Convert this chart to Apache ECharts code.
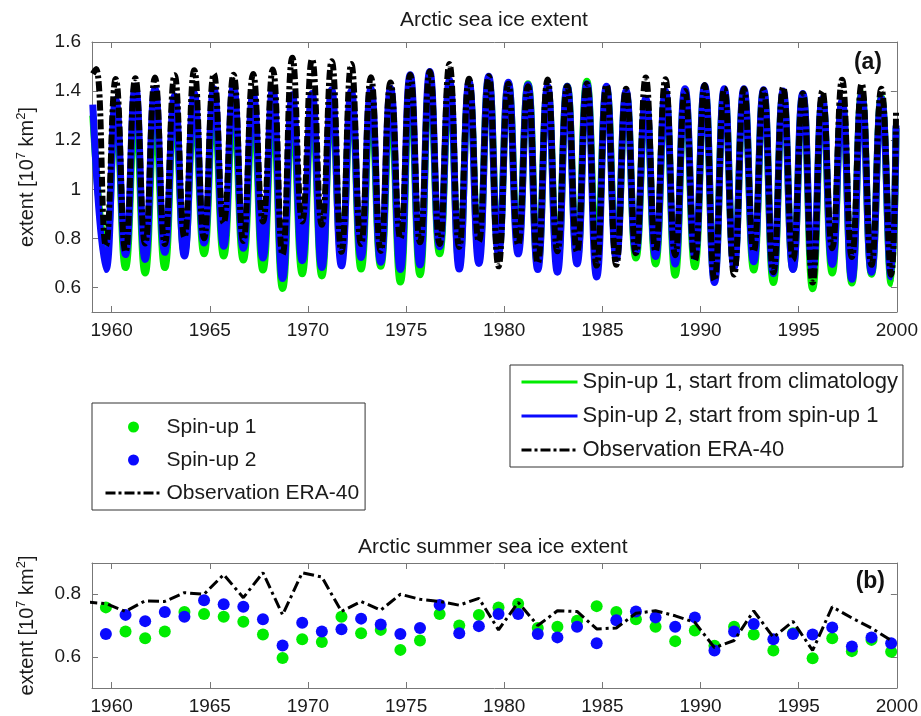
<!DOCTYPE html>
<html>
<head>
<meta charset="utf-8">
<script src="https://cdn.jsdelivr.net/npm/echarts@6/dist/echarts.min.js"></script>
<style>html,body{margin:0;padding:0;background:#fff}#c{width:921px;height:716px}</style>
</head>
<body>
<div id="c"></div>
<script>
// ---------------- data ----------------
const xTicks = [1960, 1965, 1970, 1975, 1980, 1985, 1990, 1995, 2000];
const yTicksA = [0.6, 0.8, 1.0, 1.2, 1.4, 1.6];
const yTicksB = [0.6, 0.8];

// September (summer minimum) years 1959..1999
const sepYears = [1959,1960,1961,1962,1963,1964,1965,1966,1967,1968,
                  1969,1970,1971,1972,1973,1974,1975,1976,1977,1978,
                  1979,1980,1981,1982,1983,1984,1985,1986,1987,1988,
                  1989,1990,1991,1992,1993,1994,1995,1996,1997,1998,1999];

// Observation ERA-40, September extent (10^7 km^2)
const obsSep = [0.770,0.745,0.779,0.777,0.805,0.800,0.863,0.789,0.869,0.734,
                0.869,0.855,0.745,0.777,0.749,0.800,0.784,0.777,0.765,0.787,
                0.686,0.774,0.700,0.747,0.745,0.689,0.692,0.739,0.747,0.731,
                0.710,0.629,0.652,0.747,0.662,0.713,0.620,0.760,0.724,0.692,0.652];
const obsSep1958 = 0.775;
// Spin-up 1 (green), September extent
const s1Sep = [0.758,0.681,0.659,0.681,0.743,0.737,0.728,0.712,0.671,0.596,
               0.656,0.647,0.728,0.675,0.686,0.622,0.652,0.737,0.700,0.734,
               0.758,0.770,0.692,0.696,0.715,0.762,0.743,0.720,0.696,0.650,
               0.684,0.635,0.696,0.671,0.620,0.675,0.595,0.659,0.618,0.654,0.616];
// Spin-up 2 (blue), September extent
const s2Sep = [0.673,0.734,0.714,0.743,0.728,0.781,0.768,0.760,0.720,0.636,
               0.709,0.681,0.688,0.722,0.703,0.673,0.692,0.766,0.675,0.698,
               0.737,0.737,0.673,0.662,0.696,0.643,0.717,0.745,0.726,0.696,
               0.726,0.620,0.681,0.705,0.656,0.673,0.671,0.694,0.633,0.662,0.643];

// March (winter maximum): observation 1959..1999, models 1960..1999
const obsMar = [1.490,1.449,1.452,1.455,1.465,1.485,1.470,1.467,1.470,1.488,
                1.536,1.530,1.522,1.510,1.456,1.435,1.467,1.480,1.510,1.450,
                1.460,1.430,1.420,1.447,1.420,1.430,1.425,1.410,1.455,1.448,
                1.400,1.425,1.410,1.410,1.405,1.415,1.390,1.400,1.446,1.430,1.410];
const s2Mar = [1.366,1.420,1.410,1.380,1.390,1.410,1.420,1.390,1.410,1.385,
               1.390,1.405,1.400,1.410,1.412,1.467,1.480,1.445,1.438,1.460,
               1.436,1.426,1.420,1.420,1.430,1.420,1.400,1.370,1.400,1.410,
               1.422,1.410,1.410,1.405,1.400,1.390,1.370,1.360,1.385,1.370];
const s1Mar = [1.300,1.305,1.290,1.320,1.315,1.330,1.305,1.300,1.305,1.300,
               1.320,1.350,1.360,1.340,1.330,1.400,1.450,1.400,1.420,1.450,
               1.430,1.430,1.410,1.420,1.440,1.410,1.390,1.360,1.390,1.400,
               1.415,1.400,1.400,1.400,1.390,1.385,1.365,1.355,1.390,1.375];

// first value (Jan 1959) and last value (Dec 1999)
const obsJan1959 = 1.47, s1Jan1959 = 1.30, s2Jan1959 = 1.345;
const obsDec1999 = 1.32, s1Dec1999 = 1.25, s2Dec1999 = 1.26;

// ---------------- build series ----------------
const JAN = 0.5/12, MAR = 2.5/12, SEP = 8.5/12, DEC = 11.5/12;
function monthly(jan, marVals, marHasFirst, sepVals, dec) {
  const out = [[sepYears[0] + JAN, jan]];
  sepYears.forEach((y, i) => {
    if (marHasFirst) out.push([y + MAR, marVals[i]]);
    else if (i > 0) out.push([y + MAR, marVals[i - 1]]);
    out.push([y + SEP, sepVals[i]]);
  });
  out.push([sepYears[sepYears.length - 1] + DEC, dec]);
  return out;
}
const obsTop = monthly(obsJan1959, obsMar, true, obsSep, obsDec1999);
const s1Top = monthly(s1Jan1959, s1Mar, false, s1Sep, s1Dec1999);
const s2Top = monthly(s2Jan1959, s2Mar, false, s2Sep, s2Dec1999);
const obsB = [[1958 + SEP, obsSep1958]].concat(sepYears.map((y, i) => [y + SEP, obsSep[i]]));
const s1B = sepYears.map((y, i) => [y + SEP, s1Sep[i]]);
const s2B = sepYears.map((y, i) => [y + SEP, s2Sep[i]]);

// ---------------- chart ----------------
const FONT = '"Liberation Sans", Arial, Helvetica, sans-serif';
const GREEN = '#00ec00', BLUE = '#0a0aff', BLACK = '#000000', AX = '#777777';
const chart = echarts.init(document.getElementById('c'), null, {renderer: 'canvas'});

function xAx(grid, pos, labels) {
  return {
    type: 'value', gridIndex: grid, position: pos, min: 1959, max: 2000,
    axisLine: {show: true, onZero: false, lineStyle: {color: AX, width: 1}},
    axisTick: {show: true, inside: true, length: 6, customValues: xTicks, lineStyle: {color: AX}},
    axisLabel: {show: labels, customValues: xTicks, margin: 9, fontSize: 19, color: '#1a1a1a', fontFamily: FONT,
      formatter: v => String(Math.round(v))},
    splitLine: {show: false}
  };
}
function yAx(grid, pos, labels, min, max, ticks) {
  const nm = '{t|extent [10}{s|7}{t| km}{s|2}{t|]}';
  return {
    type: 'value', gridIndex: grid, position: pos, min: min, max: max,
    name: labels ? nm : '', nameLocation: 'middle', nameGap: 55, nameRotate: 90,
    nameTextStyle: {fontFamily: FONT, color: '#1a1a1a', rich: {
      t: {fontSize: 20, fontFamily: FONT, color: '#1a1a1a', lineHeight: 22, verticalAlign: 'bottom'},
      s: {fontSize: 13, fontFamily: FONT, color: '#1a1a1a', lineHeight: 13, verticalAlign: 'top'}
    }},
    axisLine: {show: true, onZero: false, lineStyle: {color: AX, width: 1}},
    axisTick: {show: true, inside: true, length: 6, customValues: ticks, lineStyle: {color: AX}},
    axisLabel: {show: labels, customValues: ticks, margin: 11, fontSize: 19, color: '#1a1a1a', fontFamily: FONT,
      formatter: v => String(+v.toFixed(2))},
    splitLine: {show: false}
  };
}

const hideSym = {opacity: 0};
const option = {
  backgroundColor: '#ffffff',
  animation: false,
  title: [
    {text: 'Arctic sea ice extent', left: 400, top: 10, padding: 0,
     textStyle: {fontSize: 21, fontWeight: 'normal', color: '#1a1a1a', fontFamily: FONT}},
    {text: 'Arctic summer sea ice extent', left: 358, top: 537, padding: 0,
     textStyle: {fontSize: 21, fontWeight: 'normal', color: '#1a1a1a', fontFamily: FONT}},
    {text: '(a)', right: 39, top: 51, padding: 0,
     textStyle: {fontSize: 23, fontWeight: 'bold', color: '#111', fontFamily: FONT}},
    {text: '(b)', right: 36, top: 570, padding: 0,
     textStyle: {fontSize: 23, fontWeight: 'bold', color: '#111', fontFamily: FONT}}
  ],
  grid: [
    {left: 92, right: 24, top: 42, height: 270, containLabel: false},
    {left: 92, right: 24, top: 563, height: 125, containLabel: false}
  ],
  xAxis: [xAx(0, 'bottom', true), xAx(0, 'top', false), xAx(1, 'bottom', true), xAx(1, 'top', false)],
  yAxis: [yAx(0, 'left', true, 0.5, 1.6, yTicksA), yAx(0, 'right', false, 0.5, 1.6, yTicksA),
          yAx(1, 'left', true, 0.5, 0.9, yTicksB), yAx(1, 'right', false, 0.5, 0.9, yTicksB)],
  legend: [
    {
      orient: 'vertical', left: 510, top: 365, padding: [6, 5, 6, 10],
      itemWidth: 56, itemHeight: 11, itemGap: 12, selectedMode: false,
      borderColor: '#333', borderWidth: 1, backgroundColor: '#fff',
      lineStyle: {width: 3}, itemStyle: hideSym,
      textStyle: {fontSize: 22, lineHeight: 22, color: '#1a1a1a', fontFamily: FONT},
      data: ['Spin-up 1, start from climatology', 'Spin-up 2, start from spin-up 1', 'Observation ERA-40']
    },
    {
      orient: 'vertical', left: 92, top: 403, padding: [13, 6, 6, 12],
      itemWidth: 56, itemHeight: 11, itemGap: 11, selectedMode: false,
      borderColor: '#333', borderWidth: 1, backgroundColor: '#fff',
      lineStyle: {width: 3},
      textStyle: {fontSize: 21, lineHeight: 22, color: '#1a1a1a', fontFamily: FONT},
      data: ['Spin-up 1', 'Spin-up 2', {name: 'Observation ERA-40', itemStyle: hideSym}]
    }
  ],
  series: [
    {name: 'Spin-up 1, start from climatology', type: 'line', xAxisIndex: 0, yAxisIndex: 0,
     data: s1Top, smooth: 0.5, symbol: 'none', lineStyle: {color: GREEN, width: 7}, itemStyle: {color: GREEN}},
    {name: 'Spin-up 2, start from spin-up 1', type: 'line', xAxisIndex: 0, yAxisIndex: 0,
     data: s2Top, smooth: 0.5, symbol: 'none', lineStyle: {color: BLUE, width: 7}, itemStyle: {color: BLUE}},
    {name: 'Observation ERA-40', type: 'line', xAxisIndex: 0, yAxisIndex: 0,
     data: obsTop, smooth: 0.5, symbol: 'none', lineStyle: {color: BLACK, width: 6, type: [10, 3, 3, 3]}, itemStyle: {color: BLACK}},
    {name: 'Spin-up 1', type: 'scatter', xAxisIndex: 2, yAxisIndex: 2,
     data: s1B, symbol: 'circle', symbolSize: 12, itemStyle: {color: GREEN, opacity: 1}},
    {name: 'Spin-up 2', type: 'scatter', xAxisIndex: 2, yAxisIndex: 2,
     data: s2B, symbol: 'circle', symbolSize: 12, itemStyle: {color: BLUE, opacity: 1}},
    {name: 'Observation ERA-40', type: 'line', xAxisIndex: 2, yAxisIndex: 2,
     data: obsB, symbol: 'none', lineStyle: {color: BLACK, width: 3, type: [11, 4, 3, 4]}, itemStyle: {color: BLACK}}
  ]
};
chart.setOption(option);
</script>
</body>
</html>
